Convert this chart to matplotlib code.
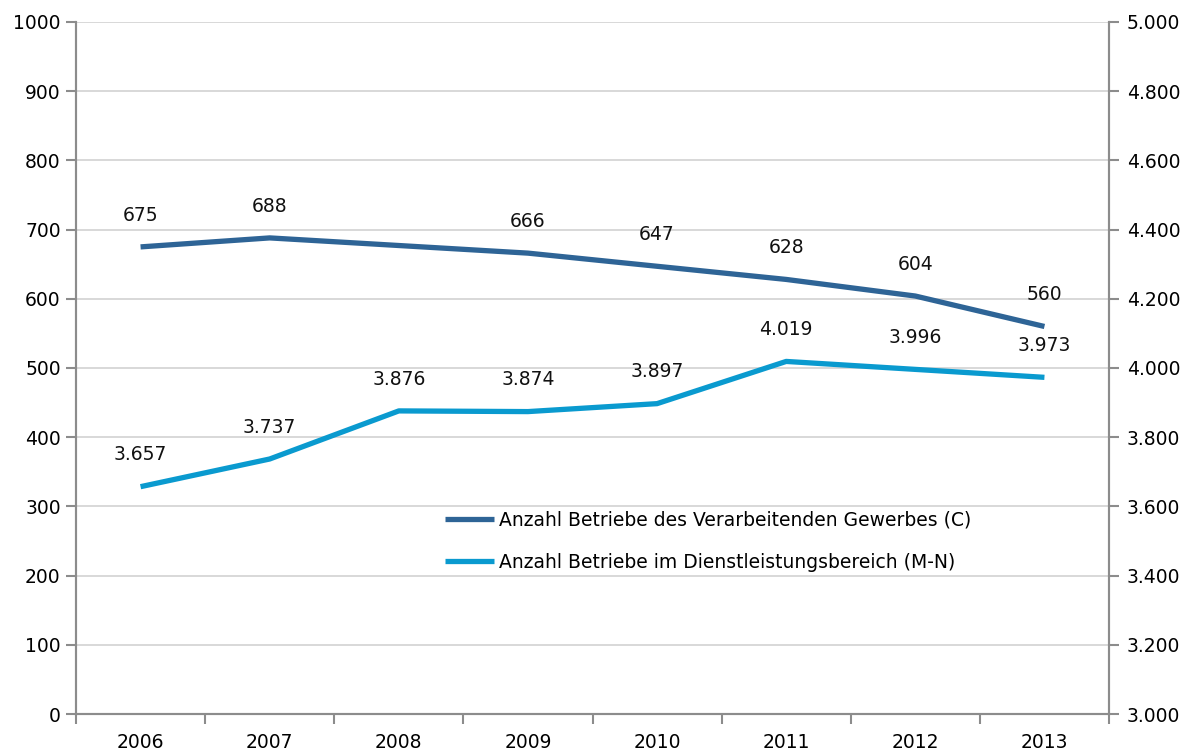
import numpy as np
import matplotlib.pyplot as plt
from matplotlib.ticker import FuncFormatter

# Werte aus dem Diagramm
jahre = ["2006", "2007", "2008", "2009", "2010", "2011", "2012", "2013"]
verarbeitend = [675, 688, 677, 666, 647, 628, 604, 560]
dienstleistung = [3657, 3737, 3876, 3874, 3897, 4019, 3996, 3973]
labels_verarbeitend = ["675", "688", "", "666", "647", "628", "604", "560"]

plt.rcParams['font.family'] = ['DejaVu Sans']
plt.rcParams['font.size'] = 13.5

dunkel = "#2E6496"
hell = "#0A9ACF"
grau = "#8C8C8C"

fig = plt.figure(figsize=(11.94, 7.55), dpi=100)
ax = fig.add_axes([76/1194, 1-714/755, (1109-76)/1194, (714-22)/755])
ax2 = ax.twinx()

x = np.arange(len(jahre))
l1, = ax.plot(x, verarbeitend, color=dunkel, lw=3.8, solid_capstyle='butt',
              label="Anzahl Betriebe des Verarbeitenden Gewerbes (C)")
l2, = ax2.plot(x, dienstleistung, color=hell, lw=3.8, solid_capstyle='butt',
               label="Anzahl Betriebe im Dienstleistungsbereich (M-N)")

for xi, v, t in zip(x, verarbeitend, labels_verarbeitend):
    if t:
        ax.annotate(t, (xi, v), xytext=(0, 16), textcoords='offset points',
                    ha='center', va='bottom', color='#111111')
for xi, v in zip(x, dienstleistung):
    t = f"{v:,}".replace(",", ".")
    ax2.annotate(t, (xi, v), xytext=(0, 16), textcoords='offset points',
                 ha='center', va='bottom', color='#111111')

ax.set_xlim(-0.5, 7.5)
ax.set_ylim(0, 1000)
ax.set_yticks(np.arange(0, 1001, 100))
ax2.set_ylim(3000, 5000)
ax2.set_yticks(np.arange(3000, 5001, 200))
ax2.yaxis.set_major_formatter(FuncFormatter(lambda v, p: f"{int(v):,}".replace(",", ".")))

ax.set_xticks(x)
ax.set_xticklabels(jahre)
ax.set_xticks(np.arange(-0.5, 8, 1), minor=True)
ax.tick_params(axis='x', which='major', length=0, pad=14)
ax.tick_params(axis='x', which='minor', length=7, color=grau, width=1.5, direction='out')
ax.tick_params(axis='y', length=7, color=grau, width=1.5, pad=4)
ax2.tick_params(axis='y', length=7, color=grau, width=1.5, pad=6)

ax.grid(axis='y', color='#D2D2D2', lw=1.2)
ax.set_axisbelow(True)
for a in (ax, ax2):
    a.spines['top'].set_visible(False)
    for s in ('left', 'right', 'bottom'):
        a.spines[s].set_color(grau)
        a.spines[s].set_linewidth(1.5)

leg = fig.legend(handles=[l1, l2], loc='upper left',
                 bbox_to_anchor=(445/1194, 1-511/755), frameon=False,
                 handlelength=2.6, handletextpad=0.3,
                 labelspacing=1.2, borderpad=0, borderaxespad=0)

fig.savefig("out.png", dpi=100)
